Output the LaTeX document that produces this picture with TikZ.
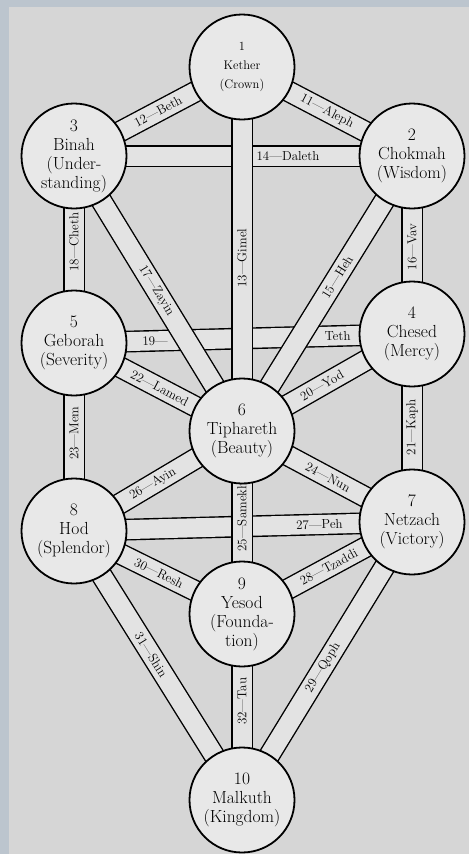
\documentclass[tikz,border=0pt]{standalone}
\usetikzlibrary{backgrounds}
\definecolor{snow}{gray}{0.84}
\definecolor{disc}{gray}{0.91}
\definecolor{lane}{gray}{0.89}
\definecolor{frost}{RGB}{188,197,206}
\begin{document}
\begin{tikzpicture}[x=1pt, y=-1pt,
  sef/.style={circle, draw, line width=1.8pt, fill=disc, minimum size=105pt,
              inner sep=0pt, align=center, font=\fontsize{17.5}{19}\selectfont},
  chan/.style={line width=1.4pt, draw=black, double=lane, double distance=19pt},
  lbl/.style={sloped, inner sep=0pt, font=\fontsize{13}{15}\selectfont}
]
\useasboundingbox (0,0) rectangle (469,854);
% the ten sephiroth
\node[sef, font=\fontsize{12.5}{19}\selectfont] (kether) at (242,67) {1\\Kether\\(Crown)};
\node[sef] (chokmah)   at (412,156) {2\\Chokmah\\(Wisdom)};
\node[sef] (binah)     at (74,156)  {3\\Binah\\(Under-\\standing)};
\node[sef] (chesed)    at (412,334) {4\\Chesed\\(Mercy)};
\node[sef] (geborah)   at (74,343)  {5\\Geborah\\(Severity)};
\node[sef] (tiphareth) at (242,431) {6\\Tiphareth\\(Beauty)};
\node[sef] (netzach)   at (412,522) {7\\Netzach\\(Victory)};
\node[sef] (hod)       at (74,531)  {8\\Hod\\(Splendor)};
\node[sef] (yesod)     at (242,614) {9\\Yesod\\(Founda-\\tion)};
\node[sef] (malkuth)   at (242,800) {10\\Malkuth\\(Kingdom)};
\begin{scope}[on background layer]
% paper
\fill[snow] (0,0) rectangle (469,854);
\fill[frost] (0,0) rectangle (9,854);
\fill[frost] (0,0) rectangle (469,7);
% horizontal paths first, the others cross over them
\path[chan] (binah.center) -- (chokmah.center)
  node[lbl, pos=0.633] {14---Daleth};
\path[chan] (geborah.center) -- (chesed.center)
  node[lbl, pos=0.24] {19---} node[lbl, pos=0.78] {Teth};
\path[chan] (hod.center) -- (netzach.center)
  node[lbl, pos=0.726] {27---Peh};
% diagonal paths
\path[chan] (binah.center) -- (kether.center) node[lbl, pos=0.5] {12---Beth};
\path[chan] (kether.center) -- (chokmah.center) node[lbl, pos=0.5] {11---Aleph};
\path[chan] (binah.center) -- (tiphareth.center) node[lbl, pos=0.49] {17---Zayin};
\path[chan] (tiphareth.center) -- (chokmah.center) node[lbl, pos=0.56] {15---Heh};
\path[chan] (geborah.center) -- (tiphareth.center) node[lbl, pos=0.51] {22---Lamed};
\path[chan] (tiphareth.center) -- (chesed.center) node[lbl, pos=0.47] {20---Yod};
\path[chan] (hod.center) -- (tiphareth.center) node[lbl, pos=0.47] {26---Ayin};
\path[chan] (tiphareth.center) -- (netzach.center) node[lbl, pos=0.506] {24---Nun};
\path[chan] (hod.center) -- (yesod.center) node[lbl, pos=0.506] {30---Resh};
\path[chan] (yesod.center) -- (netzach.center) node[lbl, pos=0.51] {28---Tzaddi};
\path[chan] (hod.center) -- (malkuth.center) node[lbl, pos=0.46] {31---Shin};
\path[chan] (malkuth.center) -- (netzach.center) node[lbl, pos=0.476] {29---Qoph};
% vertical paths
\path[chan] (tiphareth.center) -- (kether.center) node[lbl, pos=0.475] {13---Gimel};
\path[chan] (geborah.center) -- (binah.center) node[lbl, pos=0.54] {18---Cheth};
\path[chan] (chesed.center) -- (chokmah.center) node[lbl, pos=0.49] {16---Vav};
\path[chan] (netzach.center) -- (chesed.center) node[lbl, pos=0.505] {21---Kaph};
\path[chan] (hod.center) -- (geborah.center) node[lbl, pos=0.52] {23---Mem};
\path[chan] (yesod.center) -- (tiphareth.center) node[lbl, pos=0.53] {25---Samekh};
\path[chan] (malkuth.center) -- (yesod.center) node[lbl, pos=0.53] {32---Tau};
\end{scope}
\end{tikzpicture}
\end{document}
